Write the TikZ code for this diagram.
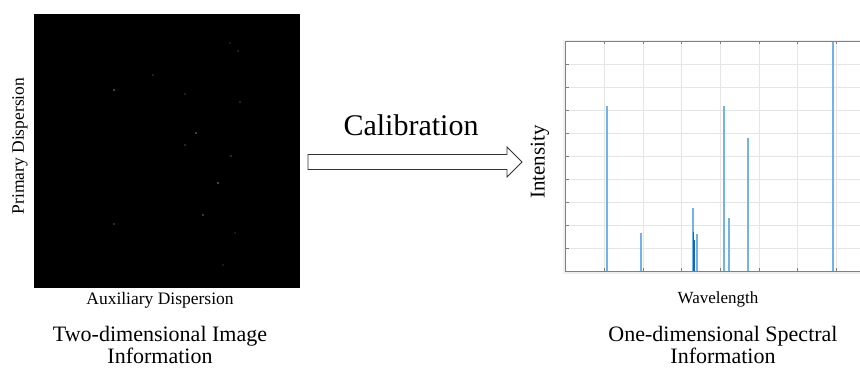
\documentclass[tikz,border=0pt]{standalone}
\usepackage{fontspec}
\setmainfont{Liberation Serif}
\definecolor{peakblue}{RGB}{115,178,228}
\definecolor{peakdeep}{RGB}{20,100,185}
\begin{document}
\begin{tikzpicture}[x=1pt,y=-1pt,
  caption/.style={font=\fontsize{22}{20}\selectfont, align=center, inner sep=0pt},
  axlabel/.style={font=\fontsize{17.5}{17}\selectfont, inner sep=0pt},
  gridline/.style={draw=black!10, line width=0.8pt},
  axisline/.style={draw=black!50, line width=1pt},
  peak/.style={draw=peakblue, line width=1.8pt},
  peakdark/.style={draw=peakdeep, line width=1.3pt},
  speck/.style={fill=white, opacity=#1},
  flowarrow/.style={draw=black!80, fill=white, line width=0.8pt}]
\useasboundingbox (0,0) rectangle (860,369);

% detector frame with faint spots
\fill[black] (34,14) rectangle (300,288);
\coordinate (img) at (167,151);
\foreach \px/\py/\op in {114/90/0.55, 196/133/0.5, 218/183/0.55, 203/215/0.45, 114/224/0.35,
  185/145/0.3, 185/94/0.25, 231/156/0.3, 240/102/0.25, 153/75/0.25, 238/51/0.25,
  235/233/0.2, 223/265/0.2, 230/43/0.2}
  \fill[speck=\op] (\px,\py) circle (0.9);
\node[axlabel, rotate=90] (primary) at (20,146) {Primary Dispersion};
\node[axlabel] (auxiliary) at (160,300) {Auxiliary Dispersion};
\node[caption] (leftcap) at (160,345) {Two-dimensional Image\\Information};

% calibration arrow
\node[font=\fontsize{30}{30}\selectfont, inner sep=0pt] (calib) at (411,125) {Calibration};
\draw[flowarrow] (308,154.5) -- (507,154.5) -- (507,147) -- (522,162) -- (507,177)
  -- (507,169.5) -- (308,169.5) -- cycle;

% spectrum plot
\coordinate (plot) at (712,156);
\fill[black!6] (563,40) rectangle (860,273.5);
\fill[white] (565.7,41.5) rectangle (860,271);
\foreach \gx in {604.4,643,681.7,720.4,759,797.7,836.4}
  \draw[gridline] (\gx,41.5) -- (\gx,271);
\foreach \k in {1,...,9}
  \draw[gridline] (565.7,41.5+22.95*\k) -- (860,41.5+22.95*\k);
% ticks
\foreach \gx in {604.4,643,681.7,720.4,759,797.7,836.4} {
  \draw[axisline, line width=0.8pt] (\gx,41.5) -- (\gx,44.5);
  \draw[axisline, line width=0.8pt] (\gx,271) -- (\gx,268);
}
\foreach \k in {1,...,9}
  \draw[axisline, line width=0.8pt] (565.7,41.5+22.95*\k) -- (568.7,41.5+22.95*\k);
% peaks
\draw[peak] (607.3,271) -- (607.3,106);
\draw[peak] (641,271) -- (641,233);
\draw[peak] (693.3,271) -- (693.3,208);
\draw[peak] (697.3,271) -- (697.3,234);
\draw[peakdark] (693.8,271) -- (693.8,232);
\draw[peakdark] (694.6,271) -- (694.6,240);
\draw[peak] (723.7,271) -- (723.7,106);
\draw[peak] (729,271) -- (729,218);
\draw[peak] (747.7,271) -- (747.7,137.5);
\draw[peak] (832.7,271) -- (832.7,41.5);
% axes
\draw[axisline] (860,41.5) -- (565.7,41.5) -- (565.7,271) -- (860,271);
\node[font=\fontsize{21}{20}\selectfont, rotate=90, inner sep=0pt] (intensity) at (540,162) {Intensity};
\node[font=\fontsize{17}{16}\selectfont, inner sep=0pt] (wavelength) at (718,299) {Wavelength};
\node[caption] (rightcap) at (723,345) {One-dimensional Spectral\\Information};
\end{tikzpicture}
\end{document}
